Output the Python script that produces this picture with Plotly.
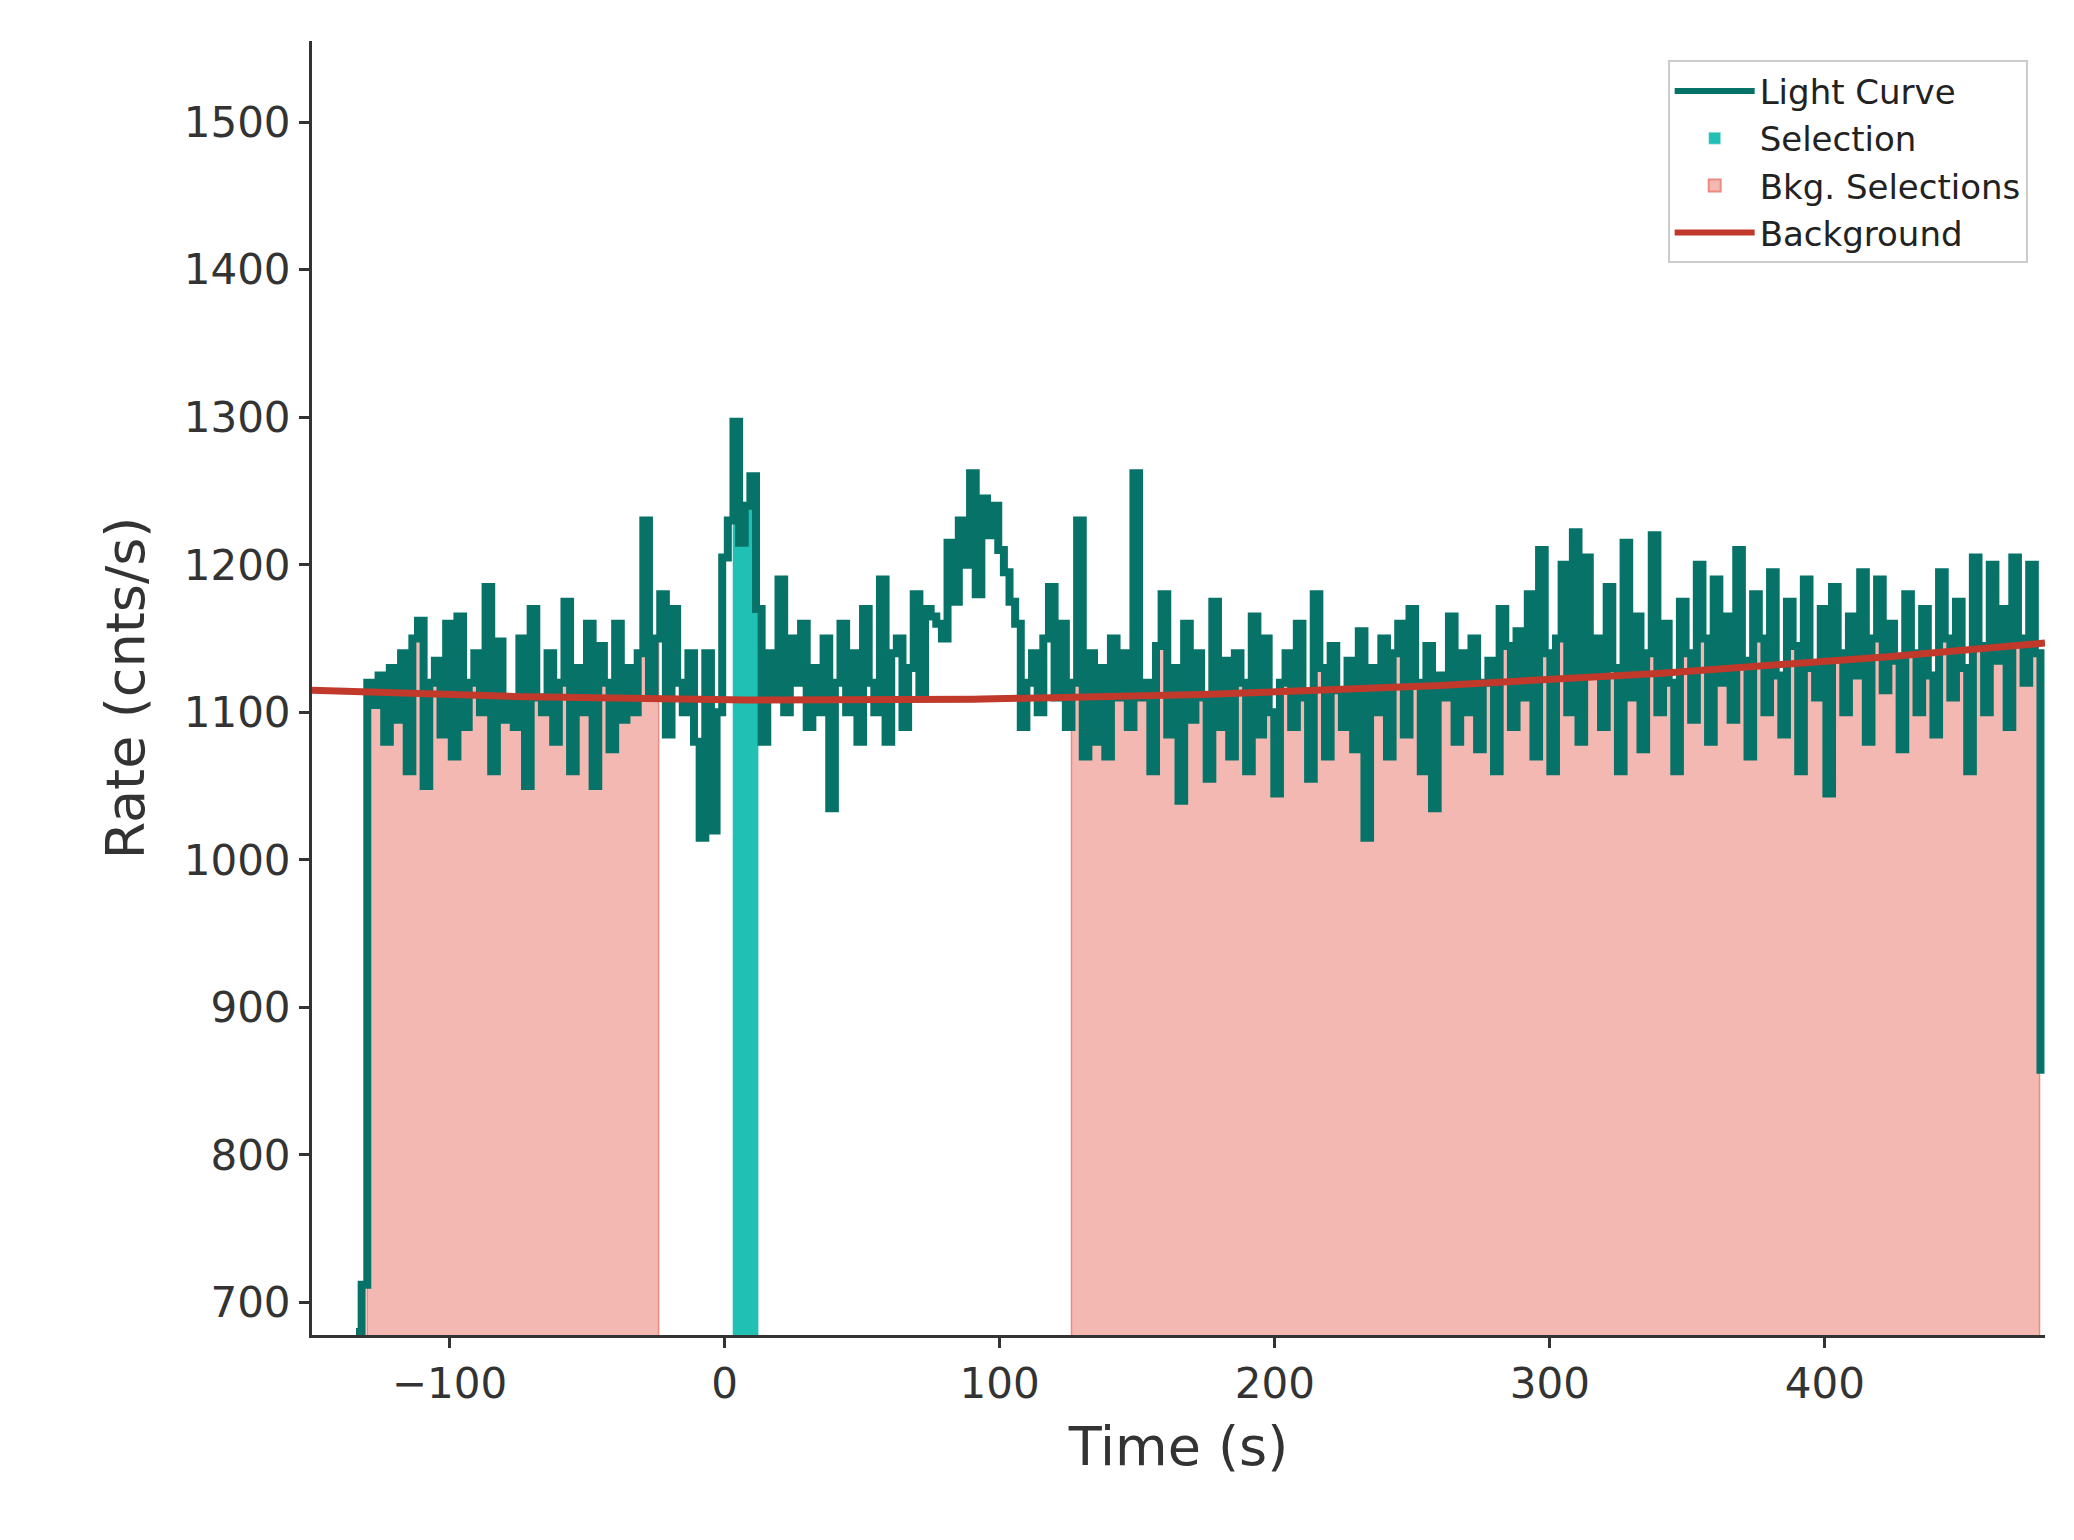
import numpy as np
import plotly.graph_objects as go

t_start = -134.0
bin_width = 2.048
rate = [
    680, 712, 1120, 1105, 1125, 1080, 1130, 1095, 1140, 1060,
    1150, 1162, 1050, 1120, 1135, 1085, 1160, 1070, 1165, 1090,
    1120, 1140, 1100, 1185, 1060, 1148, 1095, 1110, 1090, 1150,
    1050, 1170, 1110, 1100, 1140, 1080, 1120, 1175, 1060, 1130,
    1100, 1160, 1050, 1145, 1120, 1075, 1160, 1095, 1130, 1100,
    1140, 1230, 1110, 1150, 1180, 1085, 1170, 1120, 1100, 1140,
    1080, 1015, 1140, 1020, 1100, 1205, 1230, 1297, 1215, 1240,
    1260, 1170, 1080, 1140, 1110, 1190, 1100, 1150, 1120, 1160,
    1090, 1130, 1100, 1150, 1035, 1120, 1160, 1100, 1140, 1080,
    1170, 1120, 1100, 1190, 1080, 1140, 1150, 1090, 1130, 1180,
    1110, 1170, 1165, 1160, 1150, 1215, 1175, 1230, 1200, 1262,
    1180, 1245, 1220, 1240, 1210, 1195, 1175, 1160, 1090, 1120,
    1140, 1100, 1150, 1185, 1110, 1160, 1090, 1120, 1230, 1070,
    1140, 1080, 1130, 1070, 1150, 1110, 1140, 1090, 1262, 1110,
    1120, 1060, 1145, 1180, 1085, 1130, 1040, 1160, 1095, 1140,
    1110, 1055, 1175, 1090, 1135, 1070, 1140, 1120, 1060, 1165,
    1085, 1150, 1100, 1045, 1120, 1140, 1090, 1160, 1110, 1055,
    1180, 1130, 1070, 1145, 1115, 1090, 1135, 1075, 1155, 1015,
    1130, 1100, 1150, 1070, 1140, 1160, 1085, 1170, 1120, 1060,
    1145, 1035, 1125, 1110, 1165, 1080, 1140, 1100, 1150, 1075,
    1120, 1135, 1060, 1170, 1145, 1090, 1155, 1110, 1180, 1070,
    1210, 1140, 1060, 1150, 1200, 1100, 1222, 1080, 1205, 1125,
    1150, 1090, 1185, 1130, 1060, 1215, 1110, 1165, 1075, 1140,
    1220, 1100, 1160, 1120, 1060, 1175, 1140, 1095, 1200, 1150,
    1080, 1190, 1120, 1165, 1095, 1210, 1135, 1070, 1180, 1150,
    1100, 1195, 1125, 1085, 1175, 1145, 1060, 1190, 1130, 1110,
    1170, 1045, 1185, 1140, 1100, 1165, 1125, 1195, 1080, 1150,
    1190, 1115, 1160, 1135, 1075, 1180, 1140, 1100, 1170, 1125,
    1085, 1195, 1150, 1110, 1175, 1130, 1060, 1205, 1145, 1100,
    1200, 1135, 1170, 1090, 1205, 1150, 1120, 1200, 1140, 855,
]
selection = (2.0, 12.0)
bkg_selections = [(-130.0, -24.0), (125.0, 478.0)]
bkg_coeffs = [1.954e-4, -0.01368, 1108.54]

rate = np.array(rate, dtype=float)
t = t_start + bin_width * np.arange(len(rate))

CURVE = "#077368"
SEL = "#20c0b5"
BKG_FILL = "rgba(240,160,152,0.75)"
BKG_EDGE = "#ee8a80"
BKG_LINE = "#c0392b"

fig = go.Figure()

# legend-only entries (boxes for filled areas)
fig.add_trace(go.Scatter(x=[None], y=[None], mode="lines", name="Light Curve",
                         line=dict(color=CURVE, width=6)))
fig.add_trace(go.Bar(x=[None], y=[None], name="Selection", marker_color=SEL))
fig.add_trace(go.Bar(x=[None], y=[None], name="Bkg. Selections", marker_color=BKG_FILL,
                     marker_line=dict(color=BKG_EDGE, width=2)))
fig.add_trace(go.Scatter(x=[None], y=[None], mode="lines", name="Background",
                         line=dict(color=BKG_LINE, width=6)))


def add_fill(lo, hi, fillcolor, linecolor):
    m = (t >= lo) & (t <= hi)
    fig.add_trace(go.Scatter(
        x=np.concatenate([[lo], t[m], [hi]]),
        y=np.concatenate([[0], rate[m], [0]]),
        mode="lines", line=dict(color=linecolor, width=1.5, shape="hv"),
        fill="toself", fillcolor=fillcolor, showlegend=False))


add_fill(selection[0], selection[1], SEL, SEL)
for lo, hi in bkg_selections:
    add_fill(lo, hi, BKG_FILL, BKG_EDGE)

fig.add_trace(go.Scatter(x=t, y=rate, mode="lines", showlegend=False,
                         line=dict(color=CURVE, width=8, shape="hv")))

tb = np.linspace(-150, 480, 200)
fig.add_trace(go.Scatter(x=tb, y=np.polyval(bkg_coeffs, tb), mode="lines",
                         showlegend=False, line=dict(color=BKG_LINE, width=7)))

axis_common = dict(showgrid=False, zeroline=False, showline=True, linecolor="#333",
                   linewidth=3, ticks="outside", ticklen=10, tickwidth=2.5,
                   tickcolor="#333", tickfont=dict(size=42, color="#333"),
                   title_font=dict(size=54, color="#333"))

fig.update_layout(
    width=2074, height=1540, plot_bgcolor="white", paper_bgcolor="white",
    font=dict(family="DejaVu Sans", color="#333"),
    margin=dict(l=304, r=37, t=33, b=213),
    xaxis=dict(range=[-150, 480], tickvals=[-100, 0, 100, 200, 300, 400],
               ticktext=["\u2212100", "0", "100", "200", "300", "400"],
               title_text="Time (s)", title_standoff=20, **axis_common),
    yaxis=dict(range=[678, 1555], dtick=100, title_text="Rate (cnts/s)",
               title_standoff=22, **axis_common),
    legend=dict(x=0.99, y=0.985, xanchor="right", yanchor="top",
                bgcolor="white", bordercolor="#ccc", borderwidth=2,
                font=dict(size=34, color="#222"), itemwidth=80,
                traceorder="normal"),
)

fig.write_html("out.html")
